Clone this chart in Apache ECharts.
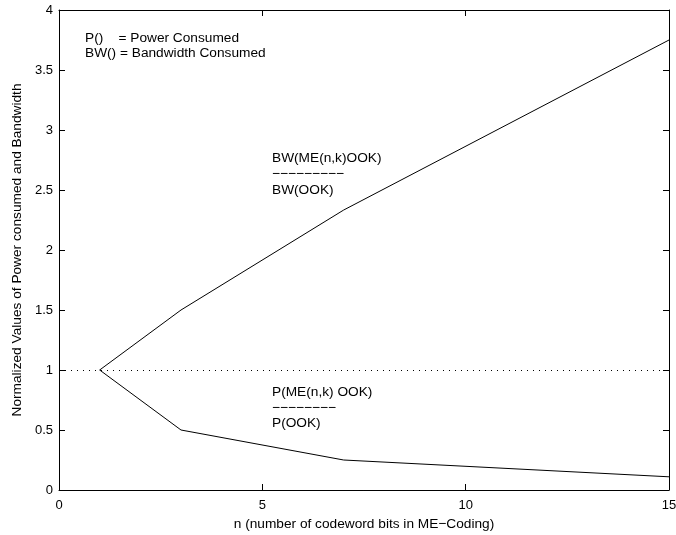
<!DOCTYPE html>
<html><head><meta charset="utf-8">
<script src="https://cdn.jsdelivr.net/npm/echarts@6/dist/echarts.min.js"></script>
<style>html,body{margin:0;padding:0;background:#fff}#c{width:676px;height:535px}</style>
</head><body><div id="c"></div>
<script>
const nValues = [1, 3, 7, 15];
const bwRatio = [1, 1.5, 2.333, 3.75];
const pRatio = [1, 0.5, 0.25, 0.11];
const referenceLevel = 1;
const xTicks = [0, 5, 10, 15];
const yTicks = [0, 0.5, 1, 1.5, 2, 2.5, 3, 3.5, 4];

const font = 'Liberation Sans, Arial, Helvetica, sans-serif';
const fs = 13.7;
const chart = echarts.init(document.getElementById('c'), null, {renderer: 'canvas'});
const axisBase = {
  axisLine: {show: true, onZero: false, lineStyle: {color: '#000', width: 1}},
  axisTick: {show: true, inside: true, length: 6, lineStyle: {color: '#000'}},
  splitLine: {show: false}
};
function txt(x, y, s) {
  return {type: 'text', x: x, y: y, style: {text: s, fill: '#000', font: fs + 'px ' + font, verticalAlign: 'middle', align: 'left'}};
}
chart.setOption({
  animation: false,
  backgroundColor: '#fff',
  grid: {left: 59, right: 7, top: 10, bottom: 45, show: false, outerBoundsMode: 'none', containLabel: false},
  xAxis: [
    Object.assign({type: 'value', min: 0, max: 15, interval: 5, position: 'bottom',
      name: 'n (number of codeword bits in ME\u2212Coding)', nameLocation: 'middle', nameGap: 27,
      nameTextStyle: {color: '#000', fontSize: fs, fontFamily: font},
      axisLabel: {color: '#000', fontSize: 13, fontFamily: font, margin: 9}}, axisBase),
    Object.assign({type: 'value', min: 0, max: 15, interval: 5, position: 'top',
      axisLabel: {show: false}}, axisBase)
  ],
  yAxis: [
    Object.assign({type: 'value', min: 0, max: 4, interval: 0.5, position: 'left',
      name: 'Normalized Values of Power consumed and Bandwidth', nameLocation: 'middle', nameGap: 35,
      nameTextStyle: {color: '#000', fontSize: fs, fontFamily: font},
      axisLabel: {color: '#000', fontSize: 13, fontFamily: font, margin: 6}}, axisBase),
    Object.assign({type: 'value', min: 0, max: 4, interval: 0.5, position: 'right',
      axisLabel: {show: false}}, axisBase)
  ],
  series: [
    {type: 'line', data: nValues.map((n, i) => [n, bwRatio[i]]), symbol: 'none',
      lineStyle: {color: '#000', width: 1}},
    {type: 'line', data: nValues.map((n, i) => [n, pRatio[i]]), symbol: 'none',
      lineStyle: {color: '#000', width: 1},
      markLine: {silent: true, symbol: 'none', label: {show: false},
        lineStyle: {color: '#000', type: [1, 5], width: 1},
        data: [{yAxis: referenceLevel}]}}
  ],
  graphic: [
    txt(85, 38, 'P()    = Power Consumed'),
    txt(85, 53, 'BW() = Bandwidth Consumed'),
    txt(272, 158, 'BW(ME(n,k)OOK)'),
    txt(272, 174, '\u2212\u2212\u2212\u2212\u2212\u2212\u2212\u2212\u2212'),
    txt(272, 190, 'BW(OOK)'),
    txt(272, 392, 'P(ME(n,k) OOK)'),
    txt(272, 408, '\u2212\u2212\u2212\u2212\u2212\u2212\u2212\u2212'),
    txt(272, 423, 'P(OOK)')
  ]
});
</script></body></html>
